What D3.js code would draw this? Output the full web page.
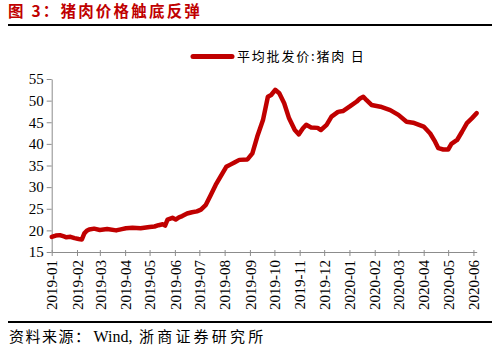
<!DOCTYPE html>
<html>
<head>
<meta charset="utf-8">
<script src="https://cdn.jsdelivr.net/npm/d3@7"></script>
<style>
  html, body { margin: 0; padding: 0; background: #fff; }
  svg { display: block; }
</style>
</head>
<body>
<svg id="chart" width="500" height="353"></svg>
<script>
const titleText = "图 3：猪肉价格触底反弹";
const sourceParts = ["资料来源：", "Wind,", " 浙商证券研究所"];
const seriesName = "平均批发价:猪肉 日";

const dates = [
  "2019-01-01","2019-01-06","2019-01-11","2019-01-16","2019-01-19","2019-01-24","2019-01-29","2019-02-03","2019-02-07",
  "2019-02-10","2019-02-13","2019-02-16","2019-02-22","2019-03-01","2019-03-10","2019-03-21","2019-03-28",
  "2019-04-02","2019-04-10","2019-04-20","2019-05-01","2019-05-07","2019-05-12","2019-05-17","2019-05-20",
  "2019-05-23","2019-05-29","2019-06-02","2019-06-06","2019-06-10","2019-06-16","2019-06-22","2019-06-28",
  "2019-07-03","2019-07-09","2019-07-15","2019-07-21","2019-07-28","2019-08-03","2019-08-08","2019-08-13",
  "2019-08-19","2019-08-29","2019-09-04","2019-09-10","2019-09-17","2019-09-23","2019-09-27","2019-10-02",
  "2019-10-07","2019-10-13","2019-10-19","2019-10-26","2019-10-31","2019-11-05","2019-11-09","2019-11-15",
  "2019-11-23","2019-11-27","2019-12-04","2019-12-10","2019-12-18","2019-12-24","2020-01-01","2020-01-10",
  "2020-01-14","2020-01-18","2020-01-22","2020-01-28","2020-02-08","2020-02-20","2020-03-01","2020-03-11",
  "2020-03-19","2020-04-01","2020-04-09","2020-04-15","2020-04-19","2020-04-25","2020-05-01","2020-05-05",
  "2020-05-12","2020-05-18","2020-05-24","2020-05-30","2020-06-05"
];
const prices = [
  18.5,18.8,18.9,18.6,18.4,18.5,18.2,18.0,17.9,
  19.3,19.9,20.2,20.4,20.1,20.3,20.0,20.3,
  20.5,20.6,20.5,20.8,20.9,21.2,21.4,21.1,
  22.5,22.9,22.5,23.0,23.3,23.9,24.2,24.4,
  24.8,25.9,28.2,30.5,32.8,34.7,35.2,35.7,
  36.3,36.4,37.8,41.7,45.5,50.9,51.3,52.5,
  51.7,49.4,45.9,43.2,42.2,43.6,44.4,43.8,
  43.7,43.2,44.4,46.3,47.4,47.6,48.6,49.8,
  50.5,50.9,50.1,49.0,48.6,47.8,46.7,45.1,
  44.9,44.0,42.4,40.5,39.0,38.7,38.7,40.0,
  40.9,42.8,44.8,45.9,47.1
];
const yTicks = [15,20,25,30,35,40,45,50,55];
const xTickLabels = ["2019-01","2019-02","2019-03","2019-04","2019-05","2019-06","2019-07","2019-08","2019-09",
  "2019-10","2019-11","2019-12","2020-01","2020-02","2020-03","2020-04","2020-05","2020-06"];

const parse = d3.timeParse("%Y-%m-%d");
const parseMonth = d3.timeParse("%Y-%m");
const data = dates.map((d, i) => ({ date: parse(d), value: prices[i] }));

const svg = d3.select("#chart");
const red = "#c00000";
const axisColor = "#8c8c8c";
const serif = "'Liberation Serif', 'DejaVu Serif', serif";
const cjk = "'Noto Sans CJK SC', sans-serif";

// Title
svg.append("text")
  .attr("x", 8).attr("y", 17)
  .attr("font-family", cjk).attr("font-size", 15.5).attr("font-weight", "bold")
  .attr("letter-spacing", 2.2)
  .attr("fill", red).text(titleText);
svg.append("line").attr("x1", 8).attr("x2", 492).attr("y1", 25).attr("y2", 25)
  .attr("stroke", "#000").attr("stroke-width", 2);

// Scales
const x = d3.scaleTime()
  .domain([parse("2019-01-01"), parse("2020-06-05")])
  .range([51.7, 476.7]);
const y = d3.scaleLinear().domain([15, 55]).range([252, 79]);

// Y axis
const yAxis = svg.append("g").attr("transform", "translate(51.7,0)")
  .call(d3.axisLeft(y).tickValues(yTicks).tickSize(5).tickPadding(3).tickSizeOuter(0));
yAxis.select(".domain").attr("stroke", axisColor);
yAxis.selectAll(".tick line").attr("stroke", axisColor);
yAxis.selectAll(".tick text").attr("font-family", serif).attr("font-size", 15).attr("fill", "#000");

// X axis
const xAxis = svg.append("g").attr("transform", "translate(0,252)")
  .call(d3.axisBottom(x).tickValues(xTickLabels.map(parseMonth)).tickFormat(d3.timeFormat("%Y-%m"))
    .tickSize(4).tickSizeOuter(0));
xAxis.select(".domain").attr("stroke", axisColor);
xAxis.selectAll(".tick line").attr("stroke", axisColor).attr("y1", -2);
xAxis.selectAll(".tick text")
  .attr("font-family", serif).attr("font-size", 15).attr("fill", "#000")
  .attr("transform", "rotate(-90)")
  .attr("text-anchor", "end")
  .attr("x", -8).attr("y", 0).attr("dy", "0.35em");

// Line
const line = d3.line().x(d => x(d.date)).y(d => y(d.value)).curve(d3.curveLinear);
svg.append("path").datum(data)
  .attr("d", line).attr("fill", "none")
  .attr("stroke", red).attr("stroke-width", 4.5)
  .attr("stroke-linejoin", "round").attr("stroke-linecap", "round");

// Legend
svg.append("line").attr("x1", 193).attr("x2", 232).attr("y1", 56.5).attr("y2", 56.5)
  .attr("stroke", red).attr("stroke-width", 5).attr("stroke-linecap", "round");
svg.append("text").attr("x", 237).attr("y", 61)
  .attr("font-family", cjk).attr("font-size", 13).attr("letter-spacing", 1.8)
  .attr("fill", "#000").text(seriesName);

// Bottom rule & source
svg.append("line").attr("x1", 8).attr("x2", 492).attr("y1", 322).attr("y2", 322)
  .attr("stroke", "#000").attr("stroke-width", 2);
const src = svg.append("text").attr("x", 9).attr("y", 342)
  .attr("font-size", 15).attr("fill", "#000");
src.append("tspan").attr("font-family", cjk).attr("letter-spacing", 1.5).text(sourceParts[0]);
src.append("tspan").attr("font-family", serif).attr("font-size", 16).attr("dx", 2).text(sourceParts[1]);
src.append("tspan").attr("font-family", cjk).attr("letter-spacing", 3.2).text(sourceParts[2]);
</script>
</body>
</html>
